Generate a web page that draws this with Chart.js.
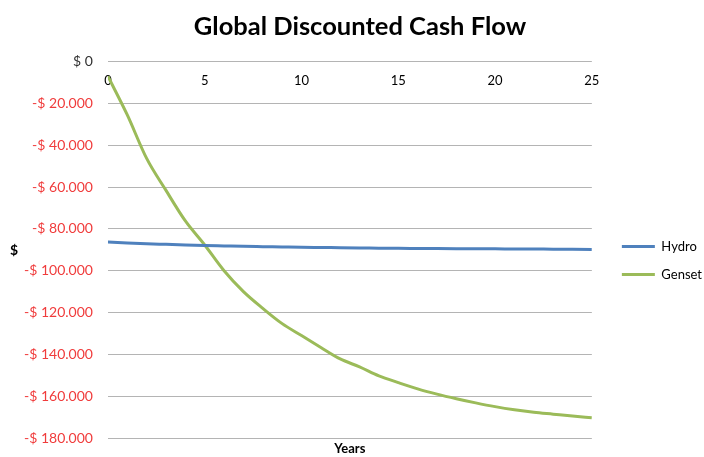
<!DOCTYPE html>
<html>
<head>
<meta charset="utf-8">
<script src="https://cdn.jsdelivr.net/npm/chart.js@4/dist/chart.umd.min.js"></script>
<style>
  html, body { margin: 0; padding: 0; background: #ffffff; }
  #wrap { width: 704px; height: 457px; position: relative; }
</style>
</head>
<body>
<div id="wrap"><canvas id="c"></canvas></div>
<script>
const years = [0,1,2,3,4,5,6,7,8,9,10,11,12,13,14,15,16,17,18,19,20,21,22,23,24,25];
const hydro = [-86300,-86700,-87100,-87400,-87700,-87950,-88150,-88350,-88500,-88650,-88800,-88900,-89000,-89100,-89200,-89300,-89350,-89400,-89450,-89500,-89550,-89600,-89650,-89700,-89750,-89800];
const genset = [-7000,-25500,-46300,-61600,-76200,-87700,-100000,-110000,-118000,-125300,-131000,-136700,-142200,-146000,-150300,-153500,-156500,-159000,-161200,-163200,-165000,-166500,-167700,-168600,-169500,-170300];
const seriesNames = ['Hydro', 'Genset'];
const xTicks = [0, 5, 10, 15, 20, 25];
const yMin = -180000, yMax = 0, yStep = 20000;

const FONT = 'Lato, "Open Sans", sans-serif';

function fmtMoney(v) {
  if (v === 0) return '$ 0';
  const a = Math.abs(v).toString().replace(/\B(?=(\d{3})+(?!\d))/g, '.');
  return (v < 0 ? '-' : '') + '$ ' + a;
}

const yTitlePlugin = {
  id: 'yTitle',
  afterDraw(chart) {
    const ctx = chart.ctx;
    ctx.save();
    ctx.font = 'bold 14px ' + FONT;
    ctx.fillStyle = '#000000';
    ctx.textAlign = 'center';
    ctx.textBaseline = 'middle';
    ctx.fillText('$', 14, 250);
    ctx.restore();
  }
};

// nudge the legend box to sit like the reference (gap from plot, vertical spot)
const legendNudge = {
  id: 'legendNudge',
  afterLayout(chart) {
    const lg = chart.legend;
    if (!lg) return;
    const dx = 15, dy = 32;
    lg.left += dx; lg.right += dx;
    lg.top += dy; lg.bottom += dy;
  }
};

new Chart(document.getElementById('c'), {
  type: 'line',
  data: {
    datasets: [
      {
        label: seriesNames[0],
        data: years.map((x, i) => ({ x: x, y: hydro[i] })),
        borderColor: '#4F81BD',
        backgroundColor: '#4F81BD',
        borderWidth: 3,
        pointRadius: 0,
        cubicInterpolationMode: 'monotone',
        xAxisID: 'x',
        yAxisID: 'y'
      },
      {
        label: seriesNames[1],
        data: years.map((x, i) => ({ x: x, y: genset[i] })),
        borderColor: '#9BBB59',
        backgroundColor: '#9BBB59',
        borderWidth: 3,
        pointRadius: 0,
        cubicInterpolationMode: 'monotone',
        xAxisID: 'x',
        yAxisID: 'y'
      }
    ]
  },
  options: {
    responsive: true,
    maintainAspectRatio: false,
    animation: false,
    layout: { padding: { left: 23, right: 7, top: 0, bottom: 0 } },
    plugins: {
      title: {
        display: true,
        text: 'Global Discounted Cash Flow',
        color: '#000000',
        font: { family: FONT, size: 25.5, weight: 'bold' },
        padding: { top: 11, bottom: 20 }
      },
      legend: {
        position: 'right',
        labels: {
          usePointStyle: true,
          pointStyle: 'line',
          pointStyleWidth: 33,
          boxWidth: 33,
          boxHeight: 3,
          color: '#000000',
          font: { family: FONT, size: 13 },
          padding: 15
        }
      },
      tooltip: { enabled: false }
    },
    scales: {
      x: {
        type: 'linear',
        position: { y: 0 },
        min: 0,
        max: 25,
        afterBuildTicks(scale) { scale.ticks = xTicks.map(v => ({ value: v })); },
        grid: { display: false, drawTicks: false },
        border: { display: false },
        ticks: {
          color: '#000000',
          font: { family: FONT, size: 13 },
          padding: 11,
          maxRotation: 0
        }
      },
      x2: {
        type: 'linear',
        position: 'bottom',
        min: 0,
        max: 25,
        grid: { display: false, drawTicks: false },
        border: { display: false },
        ticks: { display: false },
        afterFit(scale) { scale.height = 19; },
        title: {
          display: true,
          text: 'Years',
          color: '#000000',
          font: { family: FONT, size: 13, weight: 'bold' },
          padding: { top: 4, bottom: 0 }
        }
      },
      y: {
        type: 'linear',
        position: 'left',
        min: yMin,
        max: yMax,
        ticks: {
          stepSize: yStep,
          callback: (v) => fmtMoney(v),
          color: (ctx) => (ctx.tick && ctx.tick.value < 0) ? '#F03C3C' : '#303030',
          font: { family: FONT, size: 14 },
          padding: 1
        },
        grid: {
          color: '#B4B4B4',
          lineWidth: 1,
          drawTicks: true,
          tickLength: 14,
          tickColor: 'rgba(0,0,0,0)'
        },
        border: { display: false }
      }
    }
  },
  plugins: [yTitlePlugin, legendNudge]
});
</script>
</body>
</html>
